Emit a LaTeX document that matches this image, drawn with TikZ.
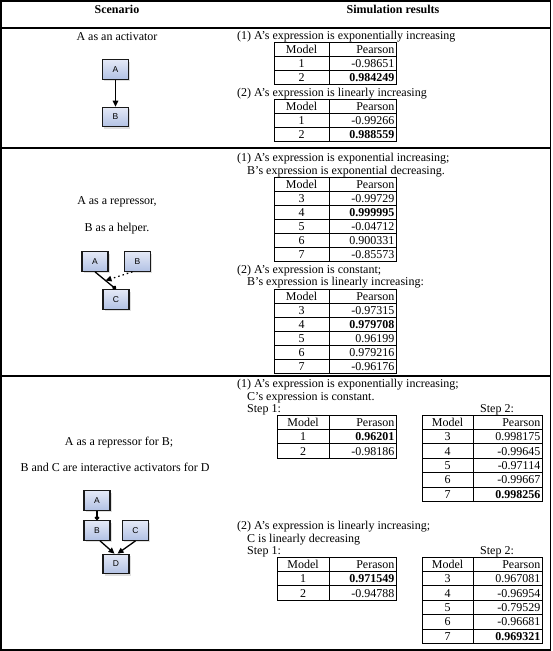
\documentclass[tikz,border=0pt]{standalone}
\usepackage{fontspec}
\setmainfont{Liberation Serif}
\newfontfamily\boxfont{Liberation Sans}
\usetikzlibrary{arrows.meta,shadows}
\definecolor{boxtop}{RGB}{228,233,246}
\definecolor{boxbot}{RGB}{178,193,228}
\definecolor{boxedge}{RGB}{25,25,25}
\def\rowh{14}
\newcommand{\restab}[6]{%
  \foreach \m/\v [count=\i from 0] in {#6} {
    \pgfmathsetmacro\ya{#5+\i*\rowh}
    \pgfmathsetmacro\yb{#5+(\i+1)*\rowh}
    \pgfmathsetmacro\yc{(\ya+\yb)/2}
    \draw[tabline] (#2,\ya) rectangle (#3,\yb);
    \draw[tabline] (#3,\ya) rectangle (#4,\yb);
    \node[cell] (#1m\i) at ({(#2+#3)/2},\yc) {\m};
    \node[cell,anchor=east] (#1v\i) at ({#4-1.5},\yc) {\v};
  }
}
\begin{document}
\begin{tikzpicture}[x=1pt,y=-1pt,
  every node/.style={font=\fontsize{12}{14}\selectfont},
  frame/.style={line width=1.4pt},
  tabline/.style={line width=0.8pt},
  cell/.style={inner sep=0pt, text height=8pt, text depth=0pt},
  txt/.style={anchor=base west, inner sep=0pt},
  ctxt/.style={anchor=base, inner sep=0pt},
  gbox/.style={draw=boxedge, line width=1.2pt, top color=boxtop, bottom color=boxbot,
    minimum width=26pt, minimum height=19.5pt, inner sep=0pt,
    font=\boxfont\fontsize{8.5}{9}\selectfont,
    drop shadow={shadow xshift=1.8pt, shadow yshift=-1.8pt, opacity=0.25, fill=gray}},
  act/.style={-{Triangle[length=6pt,width=5.5pt]}, line width=1.3pt},
  rep/.style={-{Circle[length=4.5pt]}, line width=1.3pt},
  helper/.style={-{Triangle[length=6pt,width=5.5pt]}, line width=1.2pt, dash pattern=on 1.5pt off 3pt}
]
\useasboundingbox (0,0) rectangle (552,651);
% frame and row lines
\draw[frame] (1,1) rectangle (550.5,650);
\draw[frame] (1,28) -- (550.5,28);
\draw[frame] (1,148) -- (550.5,148);
\draw[frame] (1,376) -- (550.5,376);
% header
\node[ctxt] (h1) at (117,13) {\textbf{Scenario}};
\node[ctxt] (h2) at (393,13) {\textbf{Simulation results}};

% ---------- Row 1 ----------
\node[ctxt] (s1) at (117,40) {A as an activator};
\node[gbox] (A1) at (115.5,69.5) {A};
\node[gbox] (B1) at (115.5,117) {B};
\draw[act] (A1) -- (B1);

\node[txt] (r1a) at (237,39) {(1) A’s expression is exponentially increasing};
\restab{ta}{274}{329}{396}{42}{Model/Pearson,1/-0.98651,2/\textbf{0.984249}}
\node[txt] (r1b) at (237,96) {(2) A’s expression is linearly increasing};
\restab{tb}{274}{329}{396}{99}{Model/Pearson,1/-0.99266,2/\textbf{0.988559}}

% ---------- Row 2 ----------
\node[ctxt] (s2a) at (117,204) {A as a repressor,};
\node[ctxt] (s2b) at (117,231) {B as a helper.};
\node[gbox] (A2) at (95,261.5) {A};
\node[gbox] (B2) at (137.5,261.5) {B};
\node[gbox] (C2) at (116,299.5) {C};
\draw[rep] (A2.south) -- coordinate[pos=0.5] (m2) (C2.north);
\draw[helper] ([xshift=-5pt]B2.south) -- (m2);

\node[txt] (r2a) at (237,161) {(1) A’s expression is exponential increasing;};
\node[txt] (r2b) at (247,174) {B’s expression is exponential decreasing.};
\restab{tc}{274}{329}{396}{177}{Model/Pearson,3/-0.99729,4/\textbf{0.999995},5/-0.04712,6/0.900331,7/-0.85573}
\node[txt] (r2c) at (237,273) {(2) A’s expression is constant;};
\node[txt] (r2d) at (247,285) {B’s expression is linearly increasing:};
\restab{td}{274}{329}{396}{289}{Model/Pearson,3/-0.97315,4/\textbf{0.979708},5/0.96199,6/0.979216,7/-0.96176}

% ---------- Row 3 ----------
\node[ctxt] (s3a) at (119,445) {A as a repressor for B;};
\node[ctxt] (s3b) at (115,471) {B and C are interactive activators for D};
\node[gbox] (A3) at (97,500.5) {A};
\node[gbox] (B3) at (97,530.5) {B};
\node[gbox] (C3) at (135.5,530.5) {C};
\node[gbox] (D3) at (116,564) {D};
\draw[rep] (A3.south) -- (B3.north);
\draw[act] ([xshift=3pt]B3.south) -- ([xshift=-1.5pt]D3.north);
\draw[act] (C3.south) -- ([xshift=1.5pt]D3.north);

\def\rowh{14.4}
\node[txt] (r3a) at (237,387) {(1) A’s expression is exponentially increasing;};
\node[txt] (r3b) at (247,400) {C’s expression is constant.};
\node[txt] (r3c) at (247,412) {Step 1:};
\node[txt] (r3d) at (480,412) {Step 2:};
\restab{te}{277}{329}{396}{415}{Model/Perason,1/\textbf{0.96201},2/-0.98186}
\restab{tf}{422}{473}{542}{415}{Model/Pearson,3/0.998175,4/-0.99645,5/-0.97114,6/-0.99667,7/\textbf{0.998256}}

\node[txt] (r3e) at (237,529) {(2) A’s expression is linearly increasing;};
\node[txt] (r3f) at (247,542) {C is linearly decreasing};
\node[txt] (r3g) at (247,554) {Step 1:};
\node[txt] (r3h) at (480,554) {Step 2:};
\restab{tg}{277}{329}{396}{557}{Model/Perason,1/\textbf{0.971549},2/-0.94788}
\restab{th}{422}{473}{542}{557}{Model/Pearson,3/0.967081,4/-0.96954,5/-0.79529,6/-0.96681,7/\textbf{0.969321}}
\end{tikzpicture}
\end{document}
